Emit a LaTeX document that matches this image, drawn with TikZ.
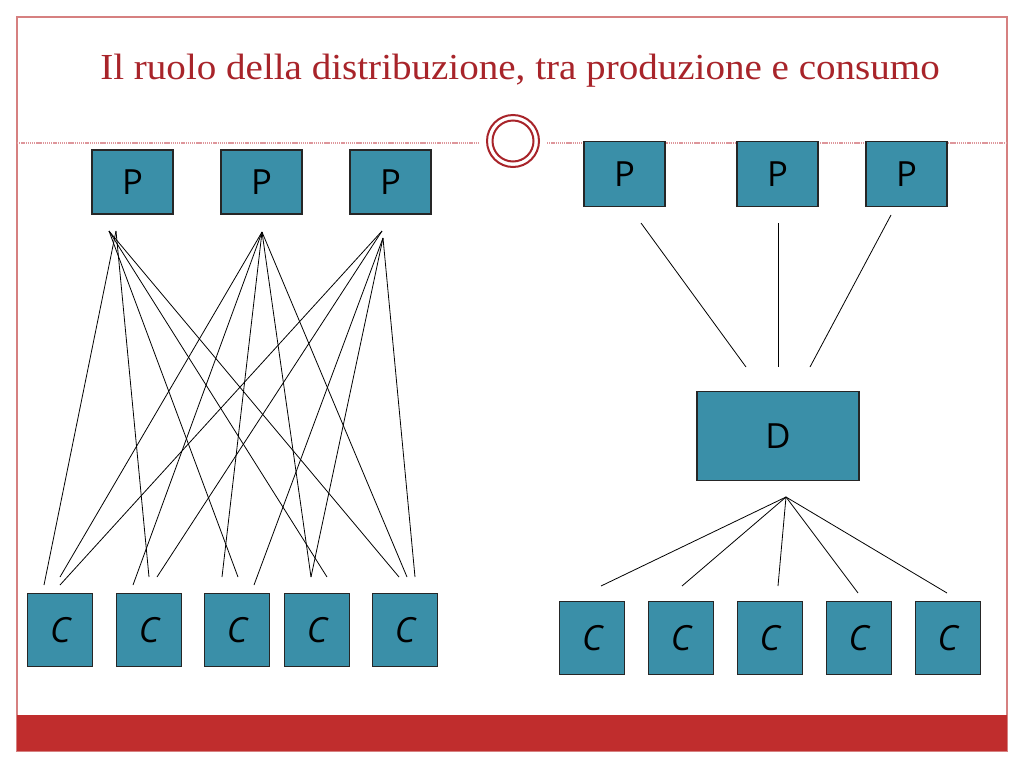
\documentclass[tikz,border=0pt]{standalone}
\usepackage{fontspec}
\setmainfont{Liberation Serif}
\newfontfamily\boxfont{Open Sans}
\usetikzlibrary{calc}

\definecolor{slidered}{RGB}{192,45,45}
\definecolor{titlered}{RGB}{168,36,42}
\definecolor{framepink}{RGB}{214,128,128}
\definecolor{rulepink}{RGB}{222,150,155}
\definecolor{boxteal}{RGB}{58,143,168}

\tikzset{
	unitbox/.style = {draw=black!85, fill=boxteal, line width=0.8pt, inner sep=0pt,
		font=\boxfont\fontsize{26}{26}\selectfont},
	pbox/.style = {unitbox, minimum width=60.75pt, minimum height=48pt},
	dbox/.style = {unitbox, minimum width=121.5pt, minimum height=66.75pt},
	cbox/.style = {unitbox, minimum width=48.75pt, minimum height=54.75pt},
	link/.style = {black, line width=0.6pt}
}

\begin{document}
\begin{tikzpicture}[x=0.75pt, y=-0.75pt]
			\useasboundingbox (0,0) rectangle (1024,768);
			\fill [white] (0,0) rectangle (1024,768);

			% slide frame
			\draw [framepink, line width=0.8pt] (17,17) rectangle (1007,751);
			\fill [slidered] (17,715) rectangle (1007,751);

			\node [titlered, anchor=base, font=\fontsize{27.5}{27.5}\selectfont] (title) at (520,79)
				{\scalebox{1.065}[1]{Il ruolo della distribuzione, tra produzione e consumo}};

			\begin{scope}[rulepink, line width=0.8pt, dash pattern=on 1pt off 0.6pt]
				\draw (17,143) -- (478,143);
				\draw (547,143) -- (1007,143);
			\end{scope}
			\draw [titlered, line width=1.5pt] (513,141) circle (26);
			\draw [titlered, line width=1.5pt] (513,141) circle (20.5);

			% left: every producer to every consumer
			\node [pbox] (lp1) at (132.5,182) {P};
			\node [pbox] (lp2) at (261.5,182) {P};
			\node [pbox] (lp3) at (390.5,182) {P};

			\foreach \name/\x in {lc1/60.4, lc2/149, lc3/237, lc4/317, lc5/405}
				\node [cbox] (\name) at (\x,629.7) {\itshape C};

			\coordinate (lp1a) at (109,231);
			\coordinate (lp1b) at (116,231);
			\coordinate (lp2a) at (262,232);
			\coordinate (lp3a) at (382,231);
			\coordinate (lp3b) at (383,238);

			\coordinate (lc1a) at (44,585);
			\coordinate (lc1b) at (60,577);
			\coordinate (lc1c) at (60,585);
			\coordinate (lc2a) at (133,585);
			\coordinate (lc2b) at (149,577);
			\coordinate (lc2c) at (157,577);
			\coordinate (lc3a) at (222,577);
			\coordinate (lc3b) at (238,577);
			\coordinate (lc3c) at (254,585);
			\coordinate (lc4a) at (311,577);
			\coordinate (lc4b) at (327,577);
			\coordinate (lc5a) at (399,577);
			\coordinate (lc5b) at (407,577);
			\coordinate (lc5c) at (415,577);

			\foreach \from/\to in {lp1b/lc1a, lp1b/lc2b, lp1a/lc3b, lp1a/lc4b, lp1a/lc5a,
				lp2a/lc1b, lp2a/lc2a, lp2a/lc3a, lp2a/lc4a, lp2a/lc5b,
				lp3a/lc1c, lp3a/lc2c, lp3b/lc3c, lp3b/lc4a, lp3b/lc5c}
				\draw [link] (\from) -- (\to);

			% right: through the distributor
			\node [pbox, minimum height=48.75pt] (rp1) at (624.5,174) {P};
			\node [pbox, minimum height=48.75pt] (rp2) at (777.5,174) {P};
			\node [pbox, minimum height=48.75pt] (rp3) at (906.5,174) {P};
			\node [dbox] (dist) at (778,436) {D};

			\foreach \name/\x in {rc1/592.3, rc2/681, rc3/769.8, rc4/858.7, rc5/947.7}
				\node [cbox] (\name) at (\x,637.7) {\itshape C};

			\coordinate (rp1a) at (641,223);
			\coordinate (rp2a) at (778,223);
			\coordinate (rp3a) at (891,215);
			\coordinate (dtop1) at (746,367);
			\coordinate (dtop2) at (778,367);
			\coordinate (dtop3) at (810,367);
			\coordinate (dbot) at (786,497);

			\coordinate (rc1a) at (601,586);
			\coordinate (rc2a) at (682,586);
			\coordinate (rc3a) at (778,586);
			\coordinate (rc4a) at (858,593);
			\coordinate (rc5a) at (947,593);

			\foreach \i in {1,2,3}
				\draw [link] (rp\i a) -- (dtop\i);
			\foreach \i in {1,...,5}
				\draw [link] (dbot) -- (rc\i a);
		\end{tikzpicture}
\end{document}
